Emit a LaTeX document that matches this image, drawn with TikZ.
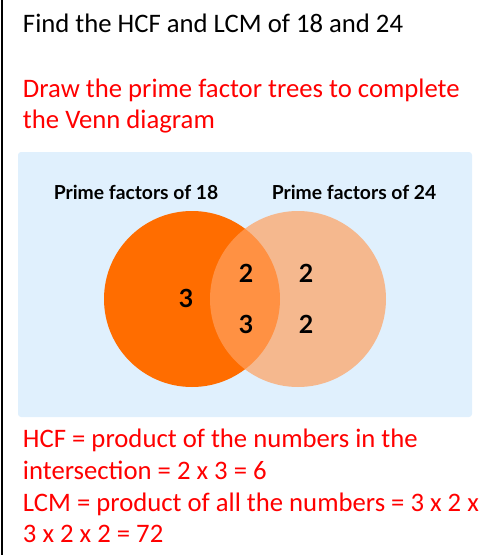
\documentclass[tikz,border=0pt]{standalone}
\usepackage{fontspec}
\setmainfont{Carlito}
\newfontfamily\vennfont{Lato}
\usetikzlibrary{positioning}
\definecolor{panelbg}{HTML}{E0F0FD}
\definecolor{setA}{HTML}{FF6D00}
\definecolor{setB}{HTML}{FFA160}
\definecolor{hint}{HTML}{FF0000}

\begin{document}
\begin{tikzpicture}[
    x=1pt, y=-1pt,
    every node/.style={inner sep=0pt, outer sep=0pt},
    line/.style={anchor=base west, font=\fontsize{26.7}{31}\selectfont},
    head/.style={anchor=base, font=\vennfont\bfseries\fontsize{19.3}{22}\selectfont},
    num/.style={font=\vennfont\bfseries\fontsize{25}{28}\selectfont},
    set/.style={circle, minimum size=176pt}
]
    \useasboundingbox (0,0) rectangle (499,555);
    \draw[line width=2pt] (2,0) -- (2,555);

    \node[line]             (task)  at (23,32)  {Find the HCF and LCM of 18 and 24};
    \node[line, text=hint]  (ask1)  at (23,97)  {Draw the prime factor trees to complete};
    \node[line, text=hint]  (ask2)  at (23,128) {the Venn diagram};

    % venn diagram
    \node[fill=panelbg, rounded corners=3pt, minimum width=454pt, minimum height=265pt] (panel) at (245,284.5) {};
    \node[set, fill=setA]                       (eighteen)   at (192,299) {};
    \node[set, fill=setB, fill opacity=0.7]     (twentyfour) at (298,299) {};
    \node[head] (head18) at (136,199) {Prime factors of 18};
    \node[head] (head24) at (354,199) {Prime factors of 24};

    \node[num] (onlyA)  at (186,298) {3};
    \node[num] (bothA)  at (246,273) {2};
    \node[num] (bothB)  at (246,324) {3};
    \node[num] (onlyB1) at (306,273) {2};
    \node[num] (onlyB2) at (306,324) {2};

    \node[line, text=hint]  (hcf1)  at (23,447) {HCF = product of the numbers in the};
    \node[line, text=hint]  (hcf2)  at (23,479) {intersection = 2 x 3 = 6};
    \node[line, text=hint]  (lcm1)  at (23,511) {LCM = product of all the numbers = 3 x 2 x};
    \node[line, text=hint]  (lcm2)  at (23,542) {3 x 2 x 2 = 72};
\end{tikzpicture}
\end{document}
